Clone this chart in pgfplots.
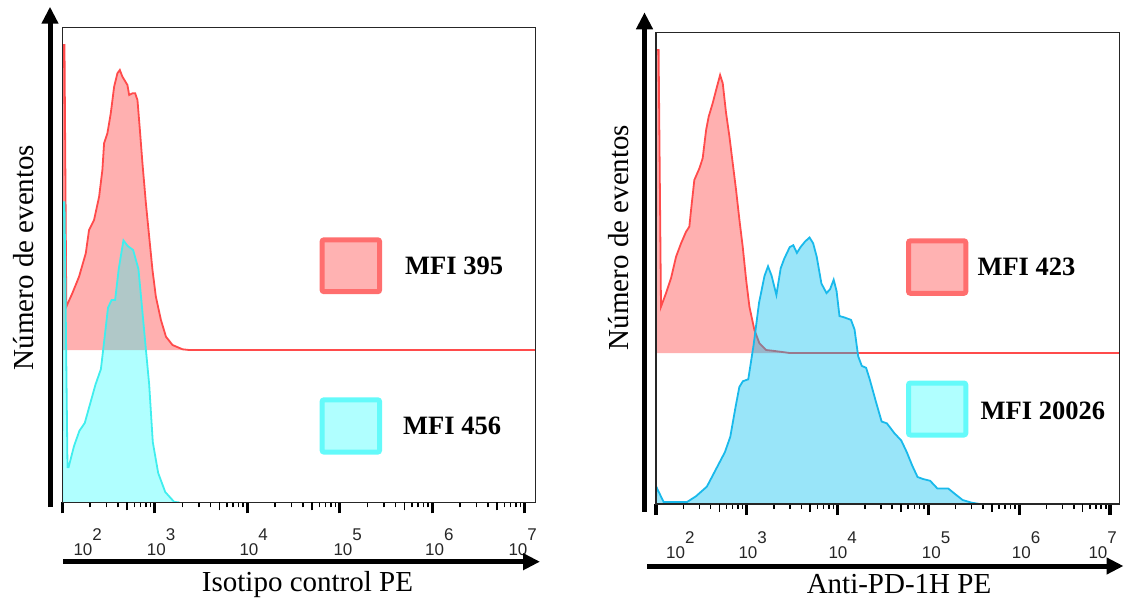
\documentclass[border=0pt]{standalone}
\usepackage{fontspec}
\setmainfont{Liberation Serif}
\newfontfamily\tickfont{Liberation Sans}
\usepackage{pgfplots}
\pgfplotsset{compat=1.18}
\usepackage{pgfplotstable}
\usetikzlibrary{arrows.meta}

\definecolor{redfill}{RGB}{255,0,0}
\definecolor{cyanfill}{RGB}{0,255,255}
\definecolor{redline}{RGB}{255,75,75}
\definecolor{cyanline}{RGB}{64,238,238}
\definecolor{blueline}{RGB}{25,185,235}
\definecolor{bluefill}{RGB}{0,190,240}
\definecolor{legred}{RGB}{255,178,178}
\definecolor{legredb}{RGB}{255,110,110}
\definecolor{legcyan}{RGB}{176,255,255}
\definecolor{legcyanb}{RGB}{100,250,250}

% left panel: isotype control (n = height above the red offset baseline)
\pgfplotstableread{
x n
100 0
100.5 305
105.6 305
110.5 43.3
128.3 56.7
151.7 73.3
179.4 96.7
194.6 120
220.4 130
250.0 153.3
271.2 180
283.0 206.7
307.3 216.7
334.2 236.7
363.4 263.3
394.3 276.7
418.7 280
446.7 273.3
506.0 265
528.3 255
573.3 256.7
613.3 256.7
649.6 250
689.9 220
735.6 186.7
801.2 146.7
869.6 113.3
944.0 80
1027 53.3
1165 30
1320 13.3
1555 5
1995 0.7
2358 0
13120000 0
}\isoRed

\pgfplotstableread{
x n
100 0
100.5 300
105.6 300
113.8 35
116.9 35
133.9 56.3
153.1 71.5
174.9 79.3
199.6 98.3
228.4 117.7
261.5 133.3
285.8 163.8
312.0 194.6
341.3 202.3
372.4 202.3
407.3 233.3
458.1 261.9
509.7 256.3
583.3 252.3
665.3 233.3
728.1 194.6
794.9 156.3
869.6 117.7
951.1 60.3
1088 29.3
1297 10.3
1622 0.3
1837 0
}\isoCyan

% right panel: anti-PD-1H
\pgfplotstableread{
x n
100 0
100.5 303
106.8 303
113.5 46.3
128.8 59.7
146.3 74.7
166.3 96.3
188.8 109.7
214.3 121.3
232.9 126.3
243.2 143
264.3 173
300.6 184.7
326.6 194.7
356.4 223
380.2 236.3
420.7 249.7
459.2 263
508.2 278
543.3 269.7
591.6 239.7
644.2 216.3
699.8 189.7
762.1 163
829.8 133
901.6 106.3
984 73
1069 46.3
1213 23
1377 9.7
1633 3
1871 2.4
2710 0.5
2951 0
12680000 0
}\pdRed

\pgfplotstableread{
x n
100 0
100.5 17.4
121.3 2
219.8 2
276.0 7.8
363.4 17.4
457.1 34.7
574.1 51.9
657.7 67.2
755.1 97.9
827.9 117
905.7 122.8
1038 124.7
1189 159.2
1365 201.3
1567 228.1
1714 237.7
1879 228.1
2118 209
2363 235.8
2588 245.4
2972 256.9
3251 258.8
3565 251.1
3908 256.9
4395 262.6
4909 266.5
5383 260.7
5888 247.3
6637 220.5
7551 210.9
8260 214.7
9057 224.3
9750 212.8
10495 187.9
11695 186.8
14060 184.1
15380 174.5
16860 147.7
18490 138.1
20610 136.2
22590 124.7
26550 101.7
30550 82.5
34990 80.6
41980 71.1
50350 63.4
57810 51.9
66370 38.5
76030 27
87300 25
104700 23.2
125700 15.5
165500 15.5
198600 9.7
238300 4
299900 1.3
368300 0
}\pdBlue

\begin{document}
\begin{tikzpicture}[x=1pt, y=-1pt]
\path[use as bounding box] (0,0) rectangle (1124,602);

% ---- left panel
\begin{axis}[
  xmode=log, scale only axis, anchor=south west,
  at={(62.3pt,-502.3pt)}, width=473.4pt, height=474.6pt,
  xmin=100, xmax=1.312e7, ymin=0, ymax=474.6,
  axis on top,
  axis line style={line width=1.3pt, black!85},
  xtick={1e2,1e3,1e4,1e5,1e6,1e7}, xticklabels={},
  ytick=\empty,
  xtick pos=bottom, tick align=outside,
  major tick length=11pt, minor tick length=5pt,
  tick style={black},
  major tick style={line width=3.2pt},
  minor tick style={line width=1.5pt},
  extra x ticks={5e2,5e3,5e4,5e5,5e6}, extra x tick labels={},
  extra x tick style={major tick length=8pt, major tick style={line width=1.6pt}},
]
\addplot[draw=none, fill=redfill, fill opacity=0.31] table[x=x, y expr=\thisrow{n}+152.3] {\isoRed} -- cycle;
\addplot[redline, line width=1.8pt] table[x=x, y expr=\thisrow{n}+152.3] {\isoRed};
\addplot[draw=none, fill=cyanfill, fill opacity=0.31] table[x=x, y=n] {\isoCyan} -- cycle;
\addplot[cyanline, line width=1.8pt] table[x=x, y=n] {\isoCyan};
\end{axis}

% ---- right panel
\begin{axis}[
  xmode=log, scale only axis, anchor=south west,
  at={(656pt,-504pt)}, width=463.3pt, height=471.7pt,
  xmin=100, xmax=1.268e7, ymin=0, ymax=471.7,
  axis on top,
  axis line style={line width=1.3pt, black!85},
  xtick={1e2,1e3,1e4,1e5,1e6,1e7}, xticklabels={},
  ytick=\empty,
  xtick pos=bottom, tick align=outside,
  major tick length=11pt, minor tick length=5pt,
  tick style={black},
  major tick style={line width=3.2pt},
  minor tick style={line width=1.5pt},
  extra x ticks={5e2,5e3,5e4,5e5,5e6}, extra x tick labels={},
  extra x tick style={major tick length=8pt, major tick style={line width=1.6pt}},
]
\addplot[draw=none, fill=redfill, fill opacity=0.31] table[x=x, y expr=\thisrow{n}+151] {\pdRed} -- cycle;
\addplot[redline, line width=1.8pt] table[x=x, y expr=\thisrow{n}+151] {\pdRed};
\addplot[draw=none, fill=bluefill, fill opacity=0.4] table[x=x, y=n] {\pdBlue} -- cycle;
\addplot[blueline, line width=1.8pt] table[x=x, y=n] {\pdBlue};
\end{axis}

% tick labels
\foreach \x/\e in {73.3/2,146.7/3,239.3/4,333.3/5,425/6,508.3/7}
  \node[anchor=base west, inner sep=0, text=black!85, font=\tickfont\fontsize{17}{17}\selectfont] at (\x,555) {10\raisebox{14.5pt}{\e}};
\foreach \x/\e in {666/2,738.3/3,828.3/4,921.7/5,1011.7/6,1088.3/7}
  \node[anchor=base west, inner sep=0, text=black!85, font=\tickfont\fontsize{17}{17}\selectfont] at (\x,558.3) {10\raisebox{14.5pt}{\e}};

% arrows
\draw[line width=5pt, -{Triangle[length=17pt, width=16pt]}] (50,507) -- (50,6.7);
\draw[line width=5pt, -{Triangle[length=17pt, width=16pt]}] (63.3,561.7) -- (540,561.7);
\draw[line width=5pt, -{Triangle[length=17pt, width=16pt]}] (644.5,511.5) -- (644.5,12.3);
\draw[line width=5pt, -{Triangle[length=17pt, width=16pt]}] (647.3,566) -- (1123.5,566);

% axis titles
\node[rotate=90, anchor=base, inner sep=0, font=\fontsize{29}{29}\selectfont] at (33.5,257.5) {Número de eventos};
\node[rotate=90, anchor=base, inner sep=0, font=\fontsize{29}{29}\selectfont] at (628,237.5) {Número de eventos};
\node[anchor=base, inner sep=0, font=\fontsize{29}{29}\selectfont] at (307.5,591.7) {Isotipo control PE};
\node[anchor=base, inner sep=0, font=\fontsize{29}{29}\selectfont] at (899,593) {Anti-PD-1H PE};

% MFI keys
\draw[line width=5pt, draw=legredb, fill=legred, rounded corners=2pt] (322.1,239.8) rectangle (379.6,291.7);
\draw[line width=5pt, draw=legcyanb, fill=legcyan, rounded corners=2pt] (322.1,399.8) rectangle (379.6,452.1);
\node[anchor=west, inner sep=0, font=\bfseries\fontsize{26.5}{26.5}\selectfont] at (405,265.4) {MFI 395};
\node[anchor=west, inner sep=0, font=\bfseries\fontsize{26.5}{26.5}\selectfont] at (403,426) {MFI 456};

\draw[line width=5pt, draw=legredb, fill=legred, rounded corners=2pt] (908.5,240.8) rectangle (965.8,293.3);
\draw[line width=5pt, draw=legcyanb, fill=legcyan, rounded corners=2pt] (908.5,383) rectangle (965.8,435);
\node[anchor=west, inner sep=0, font=\bfseries\fontsize{26.5}{26.5}\selectfont] at (977.3,267) {MFI 423};
\node[anchor=west, inner sep=0, font=\bfseries\fontsize{26.5}{26.5}\selectfont] at (980.4,410.5) {MFI 20026};
\end{tikzpicture}
\end{document}
